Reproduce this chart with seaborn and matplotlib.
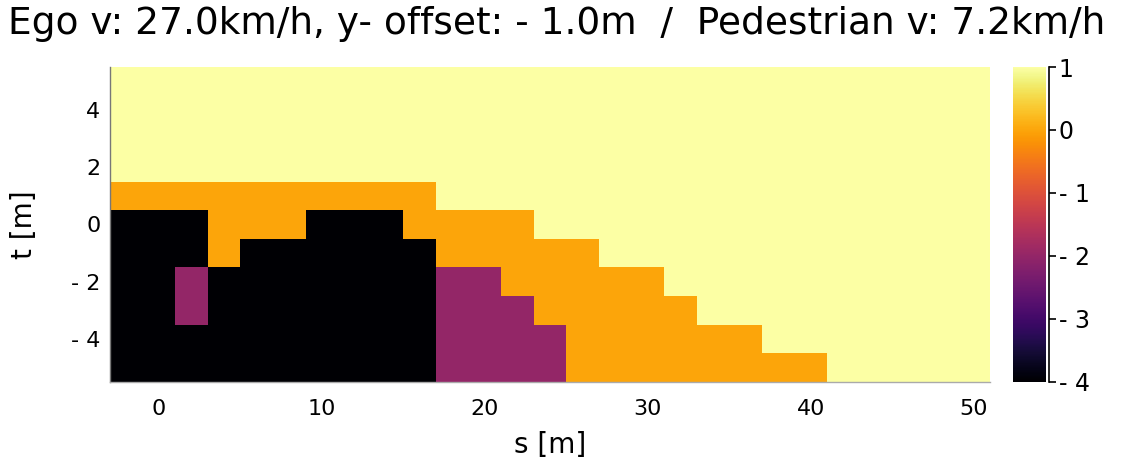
import numpy as np
import pandas as pd
import matplotlib
matplotlib.use("Agg")
import matplotlib.pyplot as plt
import seaborn as sns

# grid cells: s [m] (columns) and t [m] (rows, top to bottom)
s_values = [-2, 0, 2, 4, 6, 8, 10, 12, 14, 16, 18, 20, 22, 24,
            26, 28, 30, 32, 34, 36, 38, 40, 42, 44, 46, 48, 50]
t_values = [5, 4, 3, 2, 1, 0, -1, -2, -3, -4, -5]

row_t5 = [1] * 27
row_t4 = [1] * 27
row_t3 = [1] * 27
row_t2 = [1] * 27
row_t1 = [0, 0, 0, 0, 0, 0, 0, 0, 0, 0, 1, 1, 1, 1, 1, 1, 1, 1, 1, 1, 1, 1, 1, 1, 1, 1, 1]
row_t0 = [-4, -4, -4, 0, 0, 0, -4, -4, -4, 0, 0, 0, 0, 1, 1, 1, 1, 1, 1, 1, 1, 1, 1, 1, 1, 1, 1]
row_tm1 = [-4, -4, -4, 0, -4, -4, -4, -4, -4, -4, 0, 0, 0, 0, 0, 1, 1, 1, 1, 1, 1, 1, 1, 1, 1, 1, 1]
row_tm2 = [-4, -4, -2, -4, -4, -4, -4, -4, -4, -4, -2, -2, 0, 0, 0, 0, 0, 1, 1, 1, 1, 1, 1, 1, 1, 1, 1]
row_tm3 = [-4, -4, -2, -4, -4, -4, -4, -4, -4, -4, -2, -2, -2, 0, 0, 0, 0, 0, 1, 1, 1, 1, 1, 1, 1, 1, 1]
row_tm4 = [-4, -4, -4, -4, -4, -4, -4, -4, -4, -4, -2, -2, -2, -2, 0, 0, 0, 0, 0, 0, 1, 1, 1, 1, 1, 1, 1]
row_tm5 = [-4, -4, -4, -4, -4, -4, -4, -4, -4, -4, -2, -2, -2, -2, 0, 0, 0, 0, 0, 0, 0, 0, 1, 1, 1, 1, 1]

x_ticks = [0, 10, 20, 30, 40, 50]
y_ticks = [4, 2, 0, -2, -4]
cbar_ticks = [1, 0, -1, -2, -3, -4]

title = "Ego v: 27.0km/h, y- offset: - 1.0m  /  Pedestrian v: 7.2km/h"


def fmt(v):
    return f"- {abs(v)}" if v < 0 else f"{v}"


grid = pd.DataFrame(
    [row_t5, row_t4, row_t3, row_t2, row_t1, row_t0,
     row_tm1, row_tm2, row_tm3, row_tm4, row_tm5],
    index=t_values, columns=s_values)

sns.set_theme(style="white")
plt.rcParams['font.family'] = ['DejaVu Sans']
plt.rcParams['text.color'] = 'black'
plt.rcParams['axes.labelcolor'] = 'black'

fig = plt.figure(figsize=(11.46, 4.59), dpi=100)
ax = fig.add_axes([0.096, 0.168, 0.768, 0.686])
cax = fig.add_axes([0.884, 0.168, 0.029, 0.686])

sns.heatmap(grid, cmap="inferno", vmin=-4, vmax=1, ax=ax, cbar_ax=cax,
            xticklabels=False, yticklabels=False)

# map data values onto heatmap cell coordinates
ds = s_values[1] - s_values[0]
dt = t_values[0] - t_values[1]
s0 = s_values[0] - ds / 2
t0 = t_values[0] + dt / 2
ax.set_xticks([(v - s0) / ds for v in x_ticks])
ax.set_xticklabels([fmt(v) for v in x_ticks])
ax.set_yticks([(t0 - v) / dt for v in y_ticks])
ax.set_yticklabels([fmt(v) for v in y_ticks], rotation=0)
ax.tick_params(axis='both', length=0, labelsize=16, colors='black')
ax.tick_params(axis='x', pad=12)
ax.tick_params(axis='y', pad=7)

for side in ['left', 'bottom']:
    ax.spines[side].set_visible(True)
    ax.spines[side].set_linewidth(1.0)
ax.spines['left'].set_color('#777777')
ax.spines['bottom'].set_color('#aaaaaa')

ax.set_xlabel("s [m]", fontsize=20, labelpad=9)
ax.set_ylabel("t [m]", fontsize=20, labelpad=24)
ax.set_title(title, fontsize=27, pad=24, x=0.508)

cbar = ax.collections[0].colorbar
cbar.outline.set_visible(False)
cbar.set_ticks(cbar_ticks)
cbar.set_ticklabels([fmt(v) for v in cbar_ticks])
cax.spines['right'].set_visible(True)
cax.spines['right'].set_color('black')
cax.spines['right'].set_linewidth(1.2)
cax.spines['right'].set_position(('outward', 2))
cax.tick_params(axis='y', right=True, direction='out', length=5, width=1.2,
                labelsize=17, pad=2, colors='black')

fig.savefig("out.png", dpi=100)
